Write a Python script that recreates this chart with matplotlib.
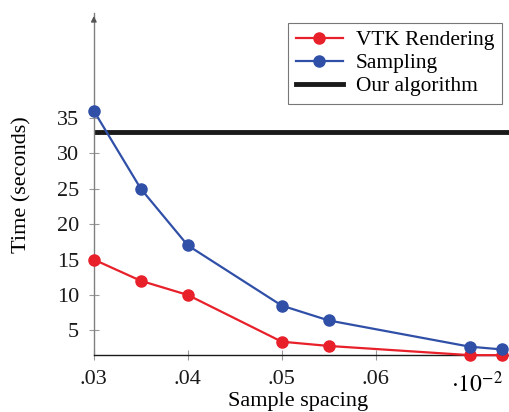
import matplotlib.pyplot as plt

plt.rcParams["font.family"] = ["Liberation Serif", "DejaVu Serif"]
plt.rcParams["mathtext.fontset"] = "stix"

# --- Data ---
spacing = [0.030, 0.035, 0.040, 0.050, 0.055, 0.070, 0.0735]
vtk_time = [15, 12, 10, 3.4, 2.8, 1.5, 1.5]
sampling_time = [36, 25, 17, 8.5, 6.4, 2.7, 2.3]
our_time = 33

x_ticks = [0.03, 0.04, 0.05, 0.06]
x_tick_labels = [".03", ".04", ".05", ".06"]
y_ticks = [5, 10, 15, 20, 25, 30, 35]

red = "#e8202a"
blue = "#3050a8"

fig = plt.figure(figsize=(5.1, 4.12), dpi=100)
ax = fig.add_axes([0.184, 0.138, 0.816, 0.830])

ax.plot(spacing, vtk_time, color=red, lw=1.6, marker="o", ms=8, label="VTK Rendering",
        clip_on=False, zorder=3)
ax.plot(spacing, sampling_time, color=blue, lw=1.6, marker="o", ms=8, label="Sampling",
        clip_on=False, zorder=3)
ax.axhline(our_time, color="#1a1a1a", lw=3.5, label="Our algorithm", zorder=2)

ax.set_xlim(0.030, 0.0743)
ax.set_ylim(1.5, 49.8)
ax.set_xticks(x_ticks)
ax.set_xticklabels(x_tick_labels)
ax.set_yticks(y_ticks)

for side in ["top", "right"]:
    ax.spines[side].set_visible(False)
ax.spines["left"].set_color("#808080")
ax.spines["left"].set_linewidth(1.0)
ax.spines["bottom"].set_color("#1a1a1a")
ax.spines["bottom"].set_linewidth(1.0)
ax.tick_params(axis="both", direction="inout", length=7, width=0.8, color="#999999",
               labelsize=16, labelcolor="#1a1a1a", pad=7)

# arrow on top of y axis
ax.annotate("", xy=(0, 1.0), xytext=(0, 0.97), xycoords="axes fraction",
            arrowprops=dict(arrowstyle="-|>", color="#555555", lw=1.0,
                            mutation_scale=8))

ax.set_ylabel("Time (seconds)", fontsize=16)
ax.yaxis.set_label_coords(-0.15, 0.5)
ax.set_xlabel("Sample spacing", fontsize=16)
ax.xaxis.set_label_coords(0.49, -0.108)
fig.text(0.935, 0.067, r"$\cdot10^{-2}$", fontsize=17, ha="center", va="center")

leg = ax.legend(loc="upper right", bbox_to_anchor=(0.99, 0.985), fontsize=15.4,
                frameon=True, fancybox=False, handlelength=2.2, borderpad=0.35,
                labelspacing=0.15, handletextpad=0.6, borderaxespad=0.2)
leg.get_frame().set_edgecolor("#555555")
leg.get_frame().set_linewidth(0.8)

fig.savefig("out.png", dpi=100)
